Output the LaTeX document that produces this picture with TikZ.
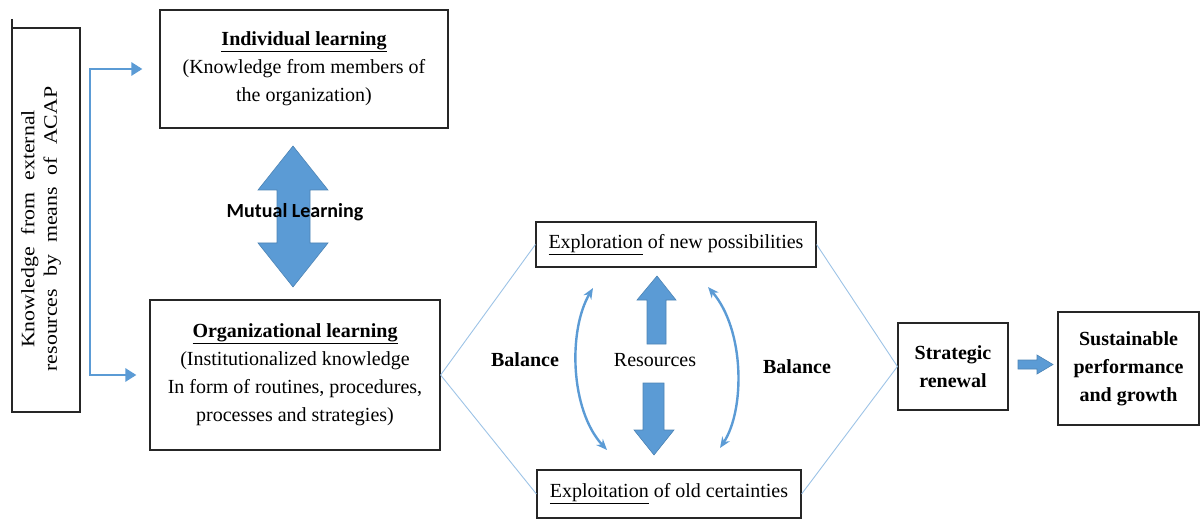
\documentclass[tikz,border=0pt]{standalone}
\usepackage{fontspec}
\setmainfont{Liberation Serif}
\newfontfamily\carlitofam{Carlito}
\usetikzlibrary{arrows.meta,calc}
\definecolor{ablue}{HTML}{5B9BD5}
\definecolor{lblue}{HTML}{9DC3E6}
\begin{document}
\begin{tikzpicture}[x=1pt,y=-1pt,
  box/.style={draw=black!85, line width=1.2pt, inner sep=0pt, align=center, font=\fontsize{20}{28}\selectfont},
  plain/.style={inner sep=0pt, align=center, font=\fontsize{20}{28}\selectfont},
  boldlab/.style={inner sep=0pt, align=center, font=\bfseries\fontsize{20}{24}\selectfont},
  conn/.style={draw=ablue, line width=2.6pt, -{Triangle[length=11pt,width=13pt]}},
  thinline/.style={draw=lblue, line width=0.9pt},
  curv/.style={draw=ablue, line width=2.4pt, {Stealth[length=11pt,width=9pt]}-{Stealth[length=11pt,width=9pt]}},
  blockarrow/.style={fill=ablue, draw=ablue!85!black, line width=0.6pt}]
\useasboundingbox (0,0) rectangle (1201,521);

% boxes
\node[box, minimum width=68pt, minimum height=384pt] (ext) at (46,220) {};
\node[inner sep=0pt, rotate=90, font=\fontsize{19}{23.5}\selectfont] (exttxt) at (41,229)
  {\scalebox{1.15}[1]{\spaceskip=0.55em\relax\begin{tabular}{@{}c@{}}Knowledge from external\\[-1pt]resources by means of ACAP\end{tabular}}};
\node[box, minimum width=288pt, minimum height=118pt] (ind) at (304,69)
  {\underline{\textbf{Individual learning}}\\(Knowledge from members of\\the organization)};
\node[box, minimum width=290pt, minimum height=150pt] (org) at (295,375)
  {\underline{\textbf{Organizational learning}}\\(Institutionalized knowledge\\In form of routines, procedures,\\processes and strategies)};
\node[box, minimum width=280pt, minimum height=45pt] (expl) at (676,244.5)
  {\underline{Exploration} of new possibilities};
\node[box, minimum width=264pt, minimum height=48pt] (expt) at (669,494)
  {\underline{Exploitation} of old certainties};
\node[box, minimum width=110pt, minimum height=87pt] (str) at (953,366.5)
  {\textbf{Strategic}\\\textbf{renewal}};
\node[box, minimum width=141pt, minimum height=113pt] (sus) at (1128.5,368.5)
  {\textbf{Sustainable}\\\textbf{performance}\\\textbf{and growth}};

% tick mark
\draw[line width=2pt, black!85] (12,19) -- (12,47);

% connector from external knowledge
\coordinate (split) at (90,220);
\draw[conn] (split) |- ([xshift=-17pt]ind.west);
\draw[conn] (split) |- ([xshift=-13pt]org.west);

% mutual learning arrow
\draw[blockarrow] (293,146) -- (328,190) -- (310,190) -- (310,243) -- (328,243) -- (293,287)
  -- (258,243) -- (277,243) -- (277,190) -- (258,190) -- cycle;
\node[inner sep=0pt, font=\carlitofam\bfseries\fontsize{20}{24}\selectfont] (mutual) at (295,212) {Mutual Learning};

% thin lines
\draw[thinline] (org.east) -- (expl.west);
\draw[thinline] (org.east) -- (expt.west);
\draw[thinline] (expl.east) -- (str.west);
\draw[thinline] (expt.east) -- (str.west);

% resources arrows
\draw[blockarrow] (657,276) -- (676,300) -- (666,300) -- (666,344) -- (647,344) -- (647,300) -- (637,300) -- cycle;
\draw[blockarrow] (643,383) -- (664,383) -- (664,430) -- (674,430) -- (654,455) -- (634,430) -- (643,430) -- cycle;
\node[plain] (res) at (655,360) {Resources};

% balance arrows
\draw[curv] (593,288) .. controls (568,330) and (570,410) .. (607,450);
\draw[curv] (708,287) .. controls (745,330) and (745,410) .. (720,448);
\node[boldlab] (balL) at (525,360) {Balance};
\node[boldlab] (balR) at (797,367) {Balance};

% small arrow to sustainable
\draw[blockarrow] (1018,360) -- (1037,360) -- (1037,355) -- (1053,364.5) -- (1037,374) -- (1037,369) -- (1018,369) -- cycle;
\end{tikzpicture}
\end{document}
